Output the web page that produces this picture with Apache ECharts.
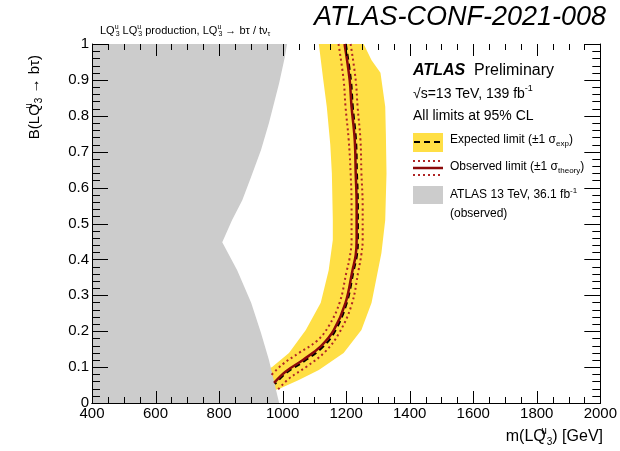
<!DOCTYPE html>
<html>
<head>
<meta charset="utf-8">
<script src="https://cdn.jsdelivr.net/npm/echarts@6/dist/echarts.min.js"></script>
<style>
html, body { margin: 0; padding: 0; background: #fff; }
#main { width: 620px; height: 451px; }
</style>
</head>
<body>
<div id="main"></div>
<script>
// axis ranges / ticks
var massRange = [400, 2000];
var massLabels = [400, 600, 800, 1000, 1200, 1400, 1600, 1800, 2000];
var massMinorDiv = 4;
var brRange = [0, 1];
var brLabels = [0, 0.1, 0.2, 0.3, 0.4, 0.5, 0.6, 0.7, 0.8, 0.9, 1];
var brMinorDiv = 5;

// previous ATLAS 36.1 fb-1 exclusion, boundary as [mass, B]
var oldLimit = [
    [400, 0], [400, 1], [1014, 1], [1007, 0.964], [989, 0.891], [957, 0.78],
    [932, 0.705], [901, 0.63], [873, 0.565], [841, 0.51], [810, 0.448],
    [857, 0.37], [901, 0.279], [932, 0.195], [957, 0.12], [989, 0]
];

// expected +-1 sigma band, closed outline
var expBand = [
    [1114, 1], [1128, 0.9], [1139, 0.825], [1150, 0.72], [1155, 0.64], [1158, 0.51],
    [1158, 0.454], [1145, 0.37], [1120, 0.279], [1073, 0.203], [1020, 0.139],
    [967, 0.1], [932, 0.086], [940, 0.03], [957, 0.031], [988, 0.039], [1051, 0.064],
    [1114, 0.092], [1192, 0.139], [1248, 0.203], [1280, 0.279], [1311, 0.418],
    [1323, 0.51], [1327, 0.64], [1325, 0.75], [1323, 0.825], [1308, 0.92],
    [1280, 0.955], [1255, 1]
];

var observed = [
    [1195, 1], [1211, 0.9], [1217, 0.825], [1227, 0.733], [1230, 0.641], [1233, 0.549],
    [1233, 0.454], [1230, 0.412], [1220, 0.37], [1198, 0.279], [1161, 0.203],
    [1120, 0.158], [1064, 0.12], [1010, 0.088], [973, 0.056]
];

var expected = [
    [1199, 1], [1215, 0.9], [1221, 0.825], [1231, 0.733], [1234, 0.641], [1237, 0.549],
    [1237, 0.454], [1234, 0.412], [1224, 0.37], [1202, 0.279], [1165, 0.2],
    [1124, 0.154], [1067, 0.116], [1012, 0.084], [976, 0.053]
];

var theoryDown = [
    [1176, 1], [1192, 0.9], [1198, 0.825], [1208, 0.733], [1214, 0.641], [1217, 0.549],
    [1217, 0.454], [1211, 0.404], [1201, 0.365], [1180, 0.281], [1145, 0.214],
    [1108, 0.173], [1051, 0.139], [1000, 0.108], [964, 0.077]
];

var theoryUp = [
    [1214, 1], [1230, 0.9], [1236, 0.825], [1245, 0.733], [1248, 0.641], [1252, 0.549],
    [1252, 0.454], [1248, 0.415], [1239, 0.37], [1217, 0.273], [1176, 0.192],
    [1133, 0.142], [1075, 0.101], [1020, 0.068], [986, 0.038]
];

var FONT = '"Liberation Sans", Arial, Helvetica, sans-serif';
var YELLOW = '#ffdf45';
var GRAY = '#cccccc';
var DARKRED = '#8b0a0a';
var DOTRED = '#b02525';

function rich(fs) {
    var s = Math.round(fs * 0.64);
    return {
        sup: { fontSize: s, fontFamily: FONT, padding: [0, 0, Math.round(fs * 0.7), 0] },
        sub: { fontSize: s, fontFamily: FONT, padding: [Math.round(fs * 0.6), 0, 0, 0] },
        supz: { fontSize: s, fontFamily: FONT, width: 1, padding: [0, 0, Math.round(fs * 0.75), 0] },
        b: { fontSize: fs, fontFamily: FONT, fontStyle: 'italic', fontWeight: 'bold' }
    };
}

function txt(x, y, text, fs, opts) {
    opts = opts || {};
    return {
        type: 'text', x: x, y: y, rotation: opts.rotation || 0, z: 100,
        style: {
            text: text, fill: '#000', fontSize: fs, fontFamily: FONT,
            fontStyle: opts.italic ? 'italic' : 'normal',
            align: opts.align || 'left', verticalAlign: 'middle',
            rich: rich(fs)
        }
    };
}

function polygon(pts, color, z) {
    return {
        type: 'custom',
        coordinateSystem: 'cartesian2d',
        clip: true,
        silent: true,
        z: z,
        data: [[massRange[0], brRange[0]]],
        renderItem: function (params, api) {
            return {
                type: 'polygon',
                shape: { points: pts.map(function (p) { return api.coord(p); }) },
                style: { fill: color }
            };
        }
    };
}

function curve(pts, color, width, type, z) {
    return {
        type: 'line', data: pts, showSymbol: false, silent: true, smooth: 0.4, z: z,
        lineStyle: { color: color, width: width, type: type }
    };
}

// major + minor tick values from the label list
function tickList(labels, div) {
    var out = [];
    labels.forEach(function (v, i) {
        out.push([v, true]);
        if (i < labels.length - 1) {
            var step = (labels[i + 1] - v) / div;
            for (var k = 1; k < div; k++) out.push([v + k * step, false]);
        }
    });
    return out;
}

// ROOT style inside ticks on all four sides
var tickSeries = {
    type: 'custom', coordinateSystem: 'cartesian2d', clip: false, silent: true, z: 20,
    data: [[massRange[0], brRange[0]]],
    renderItem: function (params, api) {
        var kids = [];
        function seg(x1, y1, x2, y2) {
            kids.push({ type: 'line', shape: { x1: x1, y1: y1, x2: x2, y2: y2 },
                style: { stroke: '#000', lineWidth: 1 } });
        }
        tickList(massLabels, massMinorDiv).forEach(function (t) {
            var len = t[1] ? 12 : 6;
            var b = api.coord([t[0], brRange[0]]), top = api.coord([t[0], brRange[1]]);
            var x = Math.round(b[0]) + 0.5;
            seg(x, b[1], x, b[1] - len);
            seg(x, top[1], x, top[1] + len);
        });
        tickList(brLabels, brMinorDiv).forEach(function (t) {
            var len = t[1] ? 16 : 8;
            var l = api.coord([massRange[0], t[0]]), r = api.coord([massRange[1], t[0]]);
            var y = Math.round(l[1]) + 0.5;
            seg(l[0], y, l[0] + len, y);
            seg(r[0], y, r[0] - len, y);
        });
        return { type: 'group', children: kids };
    }
};

function xAx(pos) {
    return {
        type: 'value', position: pos, min: massRange[0], max: massRange[1],
        interval: massLabels[1] - massLabels[0], z: 10,
        axisLine: { show: true, lineStyle: { color: '#000' } },
        axisTick: { show: false },
        splitLine: { show: false },
        axisLabel: { show: pos === 'bottom', color: '#000', fontSize: 15, fontFamily: FONT, margin: 3,
            showMinLabel: true, showMaxLabel: true,
            formatter: function (v) { return String(v); } }
    };
}

function yAx(pos) {
    return {
        type: 'value', position: pos, min: brRange[0], max: brRange[1],
        interval: brLabels[1] - brLabels[0], z: 10,
        axisLine: { show: true, lineStyle: { color: '#000' } },
        axisTick: { show: false },
        splitLine: { show: false },
        axisLabel: { show: pos === 'left', color: '#000', fontSize: 15, fontFamily: FONT, margin: 3,
            formatter: function (v) { return String(Math.round(v * 10) / 10); } }
    };
}

var chart = echarts.init(document.getElementById('main'), null, { renderer: 'canvas' });

var option = {
    animation: false,
    backgroundColor: '#fff',
    grid: { left: 92, right: 17, top: 44, bottom: 48 },
    xAxis: [xAx('bottom'), xAx('top')],
    yAxis: [yAx('left'), yAx('right')],
    series: [
        polygon(expBand, YELLOW, 1),
        polygon(oldLimit, GRAY, 2),
        curve(theoryDown, DOTRED, 2, [2, 3], 3),
        curve(theoryUp, DOTRED, 2, [2, 3], 3),
        curve(expected, '#000', 2, [6, 4], 4),
        curve(observed, DARKRED, 2.5, 'solid', 5),
        tickSeries
    ],
    graphic: [
        txt(606, 17, 'ATLAS-CONF-2021-008', 27, { align: 'right', italic: true }),
        txt(100, 31, 'LQ{supz|u}{sub|3} LQ{supz|u}{sub|3} production, LQ{supz|u}{sub|3} \u2192 b\u03c4 / t\u03bd{sub|\u03c4}', 11),
        txt(35, 55, 'B(LQ{supz|u}{sub|3} \u2192 b\u03c4)', 15, { align: 'right', rotation: Math.PI / 2 }),
        txt(603, 437, 'm(LQ{supz|u}{sub|3}) [GeV]', 16, { align: 'right' }),

        // legend block
        txt(413, 71, '{b|ATLAS}  Preliminary', 16),
        txt(413, 94, '\u221as=13 TeV, 139 fb{sup|-1}', 14),
        txt(413, 116, 'All limits at 95% CL', 14),
        { type: 'rect', z: 100, shape: { x: 413, y: 133, width: 30, height: 19 }, style: { fill: YELLOW } },
        { type: 'line', z: 101, shape: { x1: 414, y1: 142, x2: 443, y2: 142 },
          style: { stroke: '#000', lineWidth: 2, lineDash: [6, 4] } },
        txt(450, 140, 'Expected limit (\u00b11 \u03c3{sub|exp})', 12),
        { type: 'line', z: 101, shape: { x1: 413, y1: 161, x2: 443, y2: 161 },
          style: { stroke: DOTRED, lineWidth: 2, lineDash: [2, 3] } },
        { type: 'line', z: 101, shape: { x1: 413, y1: 168, x2: 443, y2: 168 },
          style: { stroke: DARKRED, lineWidth: 2.5 } },
        { type: 'line', z: 101, shape: { x1: 413, y1: 175, x2: 443, y2: 175 },
          style: { stroke: DOTRED, lineWidth: 2, lineDash: [2, 3] } },
        txt(450, 167, 'Observed limit (\u00b11 \u03c3{sub|theory})', 12),
        { type: 'rect', z: 100, shape: { x: 413, y: 186, width: 30, height: 18 }, style: { fill: GRAY } },
        txt(450, 195, 'ATLAS 13 TeV, 36.1 fb{sup|-1}', 12),
        txt(450, 214, '(observed)', 12)
    ]
};

chart.setOption(option);
</script>
</body>
</html>
